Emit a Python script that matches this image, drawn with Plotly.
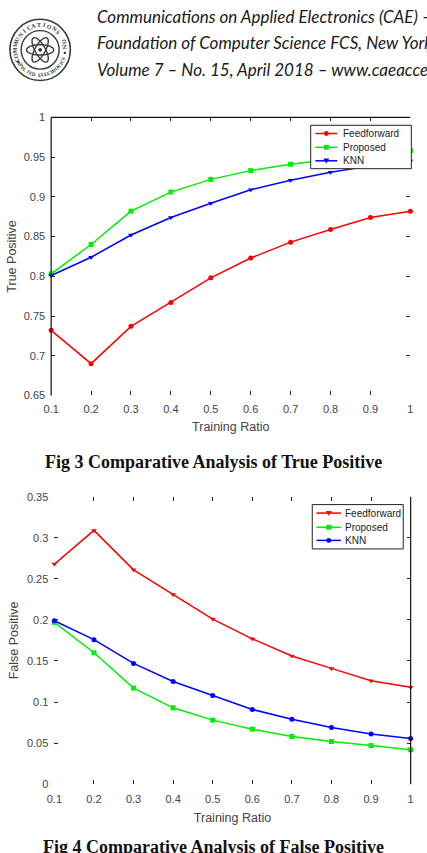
import numpy as np
import plotly.graph_objects as go

W, H = 427, 853

# ---------------- data ----------------
training_ratio = [0.1, 0.2, 0.3, 0.4, 0.5, 0.6, 0.7, 0.8, 0.9, 1.0]
x_tick_labels = ["0.1", "0.2", "0.3", "0.4", "0.5", "0.6", "0.7", "0.8", "0.9", "1"]

tp_feedforward = [0.732, 0.690, 0.737, 0.767, 0.798, 0.823, 0.843, 0.859, 0.874, 0.882]
tp_proposed = [0.803, 0.840, 0.882, 0.906, 0.922, 0.933, 0.941, 0.947, 0.953, 0.958]
tp_knn = [0.801, 0.824, 0.852, 0.874, 0.892, 0.909, 0.921, 0.931, 0.939, 0.945]
tp_ticks = [0.65, 0.7, 0.75, 0.8, 0.85, 0.9, 0.95, 1.0]
tp_tick_labels = ["0.65", "0.7", "0.75", "0.8", "0.85", "0.9", "0.95", "1"]

fp_feedforward = [0.268, 0.309, 0.261, 0.231, 0.201, 0.177, 0.156, 0.141, 0.126, 0.118]
fp_proposed = [0.197, 0.160, 0.117, 0.093, 0.078, 0.067, 0.058, 0.052, 0.047, 0.042]
fp_knn = [0.199, 0.176, 0.147, 0.125, 0.108, 0.091, 0.079, 0.069, 0.061, 0.0556]
fp_ticks = [0, 0.05, 0.1, 0.15, 0.2, 0.25, 0.3, 0.35]
fp_tick_labels = ["0", "0.05", "0.1", "0.15", "0.2", "0.25", "0.3", "0.35"]

series_names = ["Feedforward", "Proposed", "KNN"]
series_colors = ["#ff0000", "#00ee00", "#0000ff"]
tp_symbols = ["circle", "square", "triangle-down"]
fp_symbols = ["triangle-down", "square", "circle"]

header_lines = [
    "Communications on Applied Electronics (CAE) \u2013 ISSN : 2394-4714",
    "Foundation of Computer Science FCS, New York, USA",
    "Volume 7 \u2013 No. 15, April 2018 \u2013 www.caeaccess.org",
]
caption1 = "Fig 3 Comparative Analysis of True Positive"
caption2 = "Fig 4 Comparative Analysis of False Positive"


def px(x):
    return x / W


def py(y):
    return 1 - y / H


# plot areas in pixels (left, right, top, bottom)
A1 = (44.3, 413.0, 113.0, 395.0)
A2 = (47.6, 413.3, 497.7, 789.3)

fig = go.Figure()

for vals, name, col, sym in zip([tp_feedforward, tp_proposed, tp_knn], series_names, series_colors, tp_symbols):
    fig.add_trace(go.Scatter(x=training_ratio, y=vals, name=name, mode="lines+markers",
                             line=dict(color=col, width=1.5),
                             marker=dict(symbol=sym, size=5, color=col),
                             cliponaxis=False, showlegend=False, xaxis="x", yaxis="y"))
for vals, name, col, sym in zip([fp_feedforward, fp_proposed, fp_knn], series_names, series_colors, fp_symbols):
    fig.add_trace(go.Scatter(x=training_ratio, y=vals, name=name, mode="lines+markers",
                             line=dict(color=col, width=1.5),
                             marker=dict(symbol=sym, size=5, color=col),
                             cliponaxis=False, showlegend=False, xaxis="x2", yaxis="y2"))

tick_font = dict(family="Liberation Sans, Arial, sans-serif", size=11, color="#444444")
title_font = dict(family="Liberation Sans, Arial, sans-serif", size=12.5, color="#444444")

common_x = dict(range=[0.1, 1.0], tickvals=training_ratio, ticktext=x_tick_labels,
                ticks="inside", ticklen=4, tickcolor="#222222", mirror="ticks",
                showline=False, showgrid=False, zeroline=False, tickfont=tick_font)
common_y = dict(ticks="inside", ticklen=4, tickcolor="#222222", mirror="ticks",
                showline=False, showgrid=False, zeroline=False, tickfont=tick_font,
                ticklabelstandoff=5)

fig.update_layout(
    width=W, height=H, margin=dict(l=0, r=0, t=0, b=0),
    paper_bgcolor="white", plot_bgcolor="white", showlegend=False,
    xaxis=dict(domain=[px(A1[0]), px(A1[1])], anchor="y", ticklabelstandoff=6,
               title=dict(text="Training Ratio", font=title_font, standoff=7), **common_x),
    yaxis=dict(domain=[py(A1[3]), py(A1[2])], anchor="x", range=[0.65, 1.0],
               tickvals=tp_ticks, ticktext=tp_tick_labels,
               title=dict(text="True Positive", font=title_font, standoff=4), **common_y),
    xaxis2=dict(domain=[px(A2[0]), px(A2[1])], anchor="y2", ticklabelstandoff=7,
                title=dict(text="Training Ratio", font=title_font, standoff=9), **common_x),
    yaxis2=dict(domain=[py(A2[3]), py(A2[2])], anchor="x2", range=[0, 0.35],
                tickvals=fp_ticks, ticktext=fp_tick_labels,
                title=dict(text="False Positive", font=title_font, standoff=5), **common_y),
)

shapes = []
annotations = []

# visible axis lines (scan shows partial box)
line_style = dict(color="#111111", width=1.2)
shapes.append(dict(type="line", xref="paper", yref="paper", x0=px(A1[0]), x1=px(A1[0]),
                   y0=py(A1[3]), y1=py(A1[2]), line=line_style))
shapes.append(dict(type="line", xref="paper", yref="paper", x0=px(A1[0]), x1=px(A1[1]),
                   y0=py(A1[2]), y1=py(A1[2]), line=line_style))
shapes.append(dict(type="line", xref="paper", yref="paper", x0=px(A2[1]), x1=px(A2[1]),
                   y0=py(A2[3]), y1=py(A2[2]), line=line_style))


# ---------------- legends (drawn) ----------------
def add_legend(box, rows, sample_x, text_x, symbols):
    x0, x1, y0, y1 = box
    shapes.append(dict(type="rect", xref="paper", yref="paper", x0=px(x0), x1=px(x1),
                       y0=py(y1), y1=py(y0), line=dict(color="#222222", width=1),
                       fillcolor="white", layer="above"))
    for ry, name, col, sym in zip(rows, series_names, series_colors, symbols):
        shapes.append(dict(type="line", xref="paper", yref="paper", x0=px(sample_x[0]), x1=px(sample_x[1]),
                           y0=py(ry), y1=py(ry), line=dict(color=col, width=1.5), layer="above"))
        cx = (sample_x[0] + sample_x[1]) / 2
        r = 2.5
        if sym == "circle":
            shapes.append(dict(type="circle", xref="paper", yref="paper", x0=px(cx - r), x1=px(cx + r),
                               y0=py(ry + r), y1=py(ry - r), fillcolor=col, line=dict(color=col, width=0),
                               layer="above"))
        elif sym == "square":
            shapes.append(dict(type="rect", xref="paper", yref="paper", x0=px(cx - r), x1=px(cx + r),
                               y0=py(ry + r), y1=py(ry - r), fillcolor=col, line=dict(color=col, width=0),
                               layer="above"))
        else:
            path = "M {:.5f},{:.5f} L {:.5f},{:.5f} L {:.5f},{:.5f} Z".format(
                px(cx - 3), py(ry - 2.2), px(cx + 3), py(ry - 2.2), px(cx), py(ry + 2.8))
            shapes.append(dict(type="path", xref="paper", yref="paper", path=path, fillcolor=col,
                               line=dict(color=col, width=0), layer="above"))
        annotations.append(dict(xref="paper", yref="paper", x=px(text_x), y=py(ry), text=name,
                                showarrow=False, xanchor="left", yanchor="middle",
                                font=dict(family="Liberation Sans, Arial, sans-serif", size=10, color="#222222")))


add_legend((310.7, 414.0, 121.0, 165.0), [129.3, 143.3, 157.0], (315.5, 338.0), 341.5, tp_symbols)
add_legend((312.3, 405.7, 505.7, 550.7), [514.3, 528.7, 542.0], (316.7, 341.7), 343.5, fp_symbols)

# ---------------- header ----------------
for i, t in enumerate(header_lines):
    annotations.append(dict(xref="paper", yref="paper", x=px(89), y=py(10.5 + 27 * i), text="<i>" + t + "</i>",
                            showarrow=False, xanchor="left", yanchor="middle",
                            font=dict(family="Lato, Open Sans, sans-serif", size=17, color="#1a1a1a")))

# logo
cx, cy = 33.0, 44.5
ring = dict(color="#3a3a3a", width=1.4)
for r, w in [(31, 1.6), (19.5, 1.4)]:
    shapes.append(dict(type="circle", xref="paper", yref="paper", x0=px(cx - r), x1=px(cx + r),
                       y0=py(cy + r), y1=py(cy - r), line=dict(color="#3a3a3a", width=w)))
t = np.linspace(0, 2 * np.pi, 60)
for ang in [0, 60, 120]:
    a = np.deg2rad(ang)
    ex = 14 * np.cos(t)
    ey = 5.2 * np.sin(t)
    xs = cx + ex * np.cos(a) - ey * np.sin(a)
    ys = cy + ex * np.sin(a) + ey * np.cos(a)
    path = "M " + " L ".join("{:.5f},{:.5f}".format(px(a_), py(b_)) for a_, b_ in zip(xs, ys)) + " Z"
    shapes.append(dict(type="path", xref="paper", yref="paper", path=path, line=ring))
shapes.append(dict(type="circle", xref="paper", yref="paper", x0=px(cx - 2), x1=px(cx + 2),
                   y0=py(cy + 2), y1=py(cy - 2), fillcolor="#3a3a3a", line=dict(width=0)))

top_txt = "COMMUNICATIONS ON"
bot_txt = "APPLIED ELECTRONICS"
rr = 25.5
for k, ch in enumerate(top_txt):
    th = 205 - k * (200 / (len(top_txt) - 1))
    a = np.deg2rad(th)
    annotations.append(dict(xref="paper", yref="paper", x=px(cx + rr * np.cos(a)), y=py(cy - rr * np.sin(a)),
                            text="<b>" + ch + "</b>", showarrow=False, textangle=90 - th,
                            xanchor="center", yanchor="middle",
                            font=dict(family="Liberation Serif, serif", size=6, color="#333333")))
for k, ch in enumerate(bot_txt):
    th = 212 + k * (128 / (len(bot_txt) - 1))
    a = np.deg2rad(th)
    annotations.append(dict(xref="paper", yref="paper", x=px(cx + rr * np.cos(a)), y=py(cy - rr * np.sin(a)),
                            text="<b>" + ch + "</b>", showarrow=False, textangle=270 - th,
                            xanchor="center", yanchor="middle",
                            font=dict(family="Liberation Serif, serif", size=5, color="#333333")))
for th in [-7, 208]:
    a = np.deg2rad(th)
    shapes.append(dict(type="circle", xref="paper", yref="paper",
                       x0=px(cx + rr * np.cos(a) - 1.2), x1=px(cx + rr * np.cos(a) + 1.2),
                       y0=py(cy - rr * np.sin(a) + 1.2), y1=py(cy - rr * np.sin(a) - 1.2),
                       fillcolor="#333333", line=dict(width=0)))

# captions
cap_font = dict(family="Liberation Serif, Times New Roman, serif", size=18, color="#111111")
annotations.append(dict(xref="paper", yref="paper", x=px(211), y=py(462), text="<b>" + caption1 + "</b>",
                        showarrow=False, xanchor="center", yanchor="middle", font=cap_font))
annotations.append(dict(xref="paper", yref="paper", x=px(211), y=py(841), text="<b>" + caption2 + "</b>",
                        showarrow=False, xanchor="center", yanchor="top", font=cap_font))

fig.update_layout(shapes=shapes, annotations=annotations)
fig.write_html("out.html")
